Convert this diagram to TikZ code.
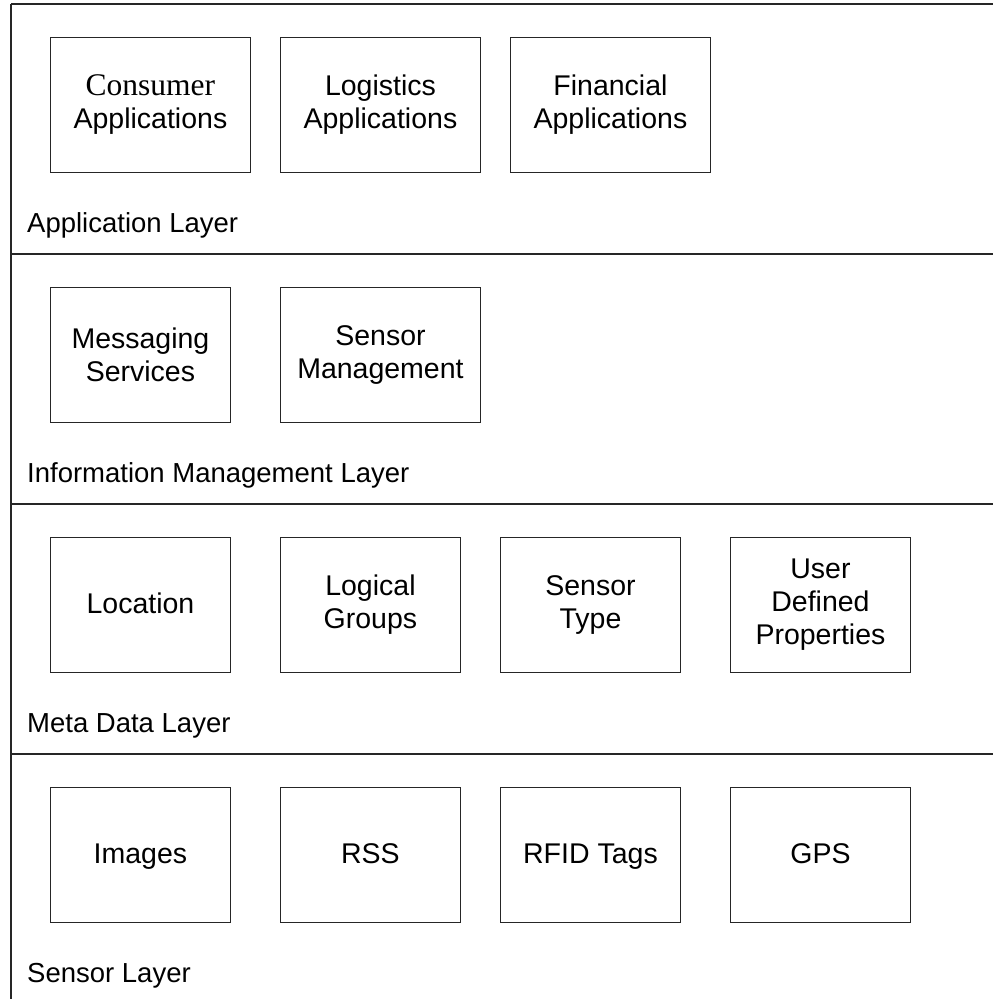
\documentclass[tikz,border=0pt]{standalone}
\usepackage{fontspec}
\setmainfont{Liberation Sans}
\newfontfamily\timesfam{Liberation Serif}
\begin{document}
\begin{tikzpicture}[x=1pt,y=-1pt,
  layerline/.style={draw=black!85,line width=1.1pt},
  block/.style={draw=black!85,line width=0.9pt,rectangle,inner sep=0pt,
    minimum height=135pt,align=center,anchor=north west,
    font=\fontsize{28.5}{33}\selectfont},
  wide/.style={block,minimum width=200pt},
  narrow/.style={block,minimum width=180pt},
  oneline/.style={text height=22pt,text depth=4pt},
  layerlabel/.style={anchor=base west,inner sep=0pt,
    font=\fontsize{27.5}{30}\selectfont}]
\useasboundingbox (0,0) rectangle (993,999);

% layer boundaries
\coordinate (tl) at (11,4);
\coordinate (bl) at (11,999);
\draw[layerline] (tl) -- (bl);
\foreach \yy in {4,254,504,754}
  \draw[layerline] (11,\yy) -- (993,\yy);

% Application Layer
\node[wide] (consumer)  at (50,37)  {{\timesfam\fontsize{31.5}{33}\selectfont Consumer}\\Applications};
\node[wide] (logistics) at (280,37) {Logistics\\Applications};
\node[wide] (financial) at (510,37) {Financial\\Applications};
\node[layerlabel] (applayer) at (27,232) {Application Layer};

% Information Management Layer
\node[narrow] (messaging) at (50,287)  {Messaging\\Services};
\node[wide]   (sensormgmt) at (280,287) {Sensor\\Management};
\node[layerlabel] (infolayer) at (27,482) {Information Management Layer};

% Meta Data Layer
\node[narrow,oneline] (location) at (50,537)  {Location};
\node[narrow] (groups)   at (280,537) {Logical\\Groups};
\node[narrow] (stype)    at (500,537) {Sensor\\Type};
\node[narrow] (userdef)  at (730,537) {User\\Defined\\Properties};
\node[layerlabel] (metalayer) at (27,732) {Meta Data Layer};

% Sensor Layer
\node[narrow,oneline] (images) at (50,787)  {Images};
\node[narrow,oneline] (rss)    at (280,787) {RSS};
\node[narrow,oneline] (rfid)   at (500,787) {RFID Tags};
\node[narrow,oneline] (gps)    at (730,787) {GPS};
\node[layerlabel] (sensorlayer) at (27,982) {Sensor Layer};
\end{tikzpicture}
\end{document}
